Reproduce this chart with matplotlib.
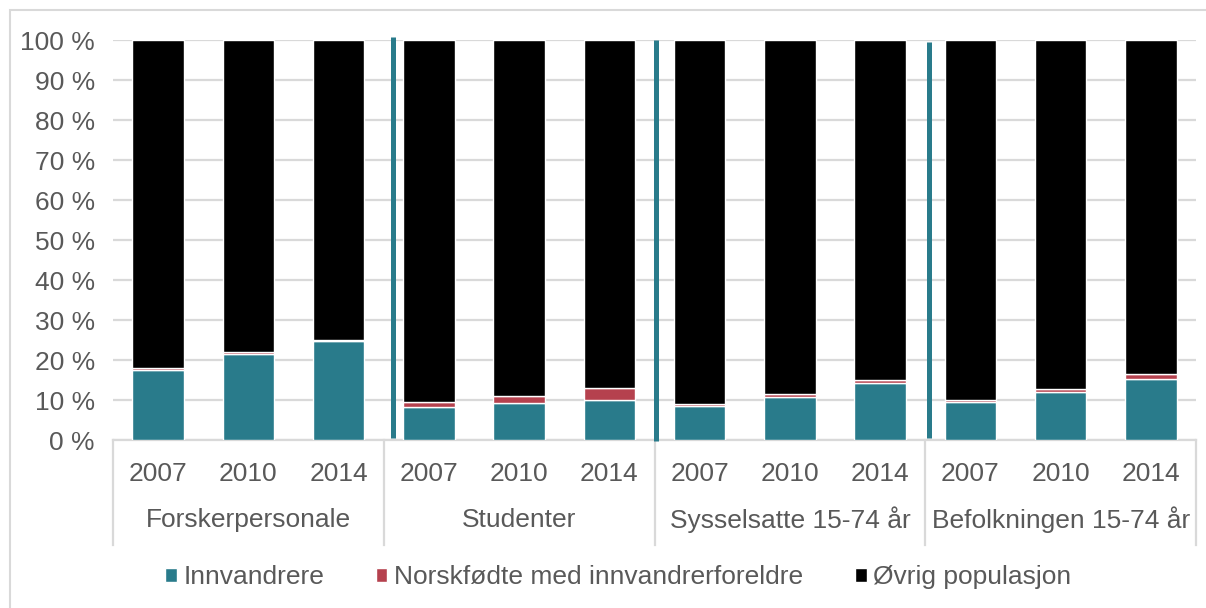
import matplotlib.pyplot as plt
from matplotlib.patches import Rectangle
from matplotlib.transforms import blended_transform_factory

plt.rcParams['font.family'] = ['Liberation Sans', 'DejaVu Sans']

groups = ['Forskerpersonale', 'Studenter', 'Sysselsatte 15-74 år', 'Befolkningen 15-74 år']
years = ['2007', '2010', '2014']

# andeler i prosent, tre år per gruppe
innvandrere = [17.6, 21.6, 24.8, 8.2, 9.2, 10.0, 8.4, 10.8, 14.2, 9.4, 11.9, 15.3]
norskfodte = [0.3, 0.3, 0.3, 1.2, 1.9, 2.9, 0.5, 0.6, 0.9, 0.6, 0.9, 1.2]
ovrig = [100 - a - b for a, b in zip(innvandrere, norskfodte)]

series_names = ['Innvandrere', 'Norskfødte med innvandrerforeldre', 'Øvrig populasjon']
colors = ['#297B8B', '#B5414E', '#000000']

# manuelle skillestreker mellom gruppene (x, topp, bunn)
sep_x = [2.597, 5.522, 8.547]
sep_top = [100.8, 100.0, 99.5]
sep_bottom = [0.5, -0.2, 0.5]

text_color = '#595959'
grid_color = '#D9D9D9'
fs = 19

fig = plt.figure(figsize=(12.06, 6.08), dpi=100)
ax = fig.add_axes([113 / 1206, 1 - 440 / 608, 1083 / 1206, 400 / 608])

# ramme rundt hele diagrammet
fig.patches.append(Rectangle((10 / 1206, -0.1), 1.2, 1 - 10 / 608 + 0.1,
                             transform=fig.transFigure, fill=False,
                             edgecolor=grid_color, linewidth=1.5))

x = list(range(len(innvandrere)))
bottoms = [0] * len(x)
for vals, name, col in zip([innvandrere, norskfodte, ovrig], series_names, colors):
    ax.bar(x, vals, width=0.57, bottom=bottoms, color=col, edgecolor='white',
           linewidth=1.0, label=name, zorder=3)
    bottoms = [b + v for b, v in zip(bottoms, vals)]

for sx, st, sb in zip(sep_x, sep_top, sep_bottom):
    ax.plot([sx, sx], [sb, st], color='#297B8B', linewidth=3.6,
            solid_capstyle='butt', clip_on=False, zorder=4)

ax.set_xlim(-0.5, 11.5)
ax.set_ylim(0, 100)
ax.set_yticks(range(0, 101, 10))
ax.set_yticklabels([f'{v} %' for v in range(0, 101, 10)], fontsize=fs, color=text_color)
ax.tick_params(axis='y', length=0, pad=13)
ax.yaxis.grid(True, color=grid_color, linewidth=1.6, zorder=0)
ax.set_axisbelow(True)

for s in ['top', 'right', 'left']:
    ax.spines[s].set_visible(False)
ax.spines['bottom'].set_color(grid_color)
ax.spines['bottom'].set_linewidth(1.6)

ax.set_xticks([])
trans = blended_transform_factory(ax.transData, ax.transAxes)
for i in x:
    ax.text(i, -0.085, years[i % 3], ha='center', va='center', transform=trans,
            fontsize=fs, color=text_color)
for g, name in enumerate(groups):
    ax.text(3 * g + 1, -0.2, name, ha='center', va='center', transform=trans,
            fontsize=fs, color=text_color)
for b in [-0.5, 2.5, 5.5, 8.5, 11.5]:
    ax.plot([b, b], [0, -0.2625], color=grid_color, linewidth=1.6,
            transform=trans, clip_on=False)

leg = fig.legend(loc='center', bbox_to_anchor=(618 / 1206, 1 - 577 / 608), ncol=3,
                 frameon=False, fontsize=fs, handlelength=0.45, handleheight=0.45,
                 handletextpad=0.25, columnspacing=1.95)
for t in leg.get_texts():
    t.set_color(text_color)

fig.savefig('out.png', dpi=100)
